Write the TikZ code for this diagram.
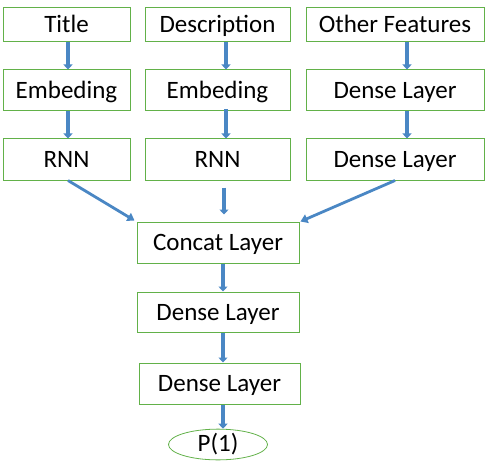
\documentclass[tikz,border=0pt]{standalone}
\usepackage{fontspec}
\setmainfont{Carlito}
\usetikzlibrary{arrows.meta,shapes.geometric}
\definecolor{boxgreen}{RGB}{98,177,73}
\definecolor{arrblue}{RGB}{74,135,196}
\tikzset{
  layerbox/.style={draw=boxgreen, line width=1pt, inner sep=0pt, text height=16pt, text depth=0pt, font=\fontsize{25}{30}\selectfont},
  outell/.style={ellipse, draw=boxgreen, line width=0.8pt, inner sep=0pt, font=\fontsize{25}{30}\selectfont},
  conn/.style={draw=arrblue, line width=3.5pt, -{Triangle[length=5pt,width=9pt]}},
  diag/.style={draw=arrblue, line width=2.8pt, -{Triangle[length=7pt,width=9pt]}}
}
\begin{document}
\begin{tikzpicture}[x=1pt,y=-1pt]
\useasboundingbox (0,0) rectangle (497,473);
% row 1
\node[layerbox, minimum width=127pt, minimum height=34pt] (title) at (66.5,25) {Title};
\node[layerbox, minimum width=145pt, minimum height=34pt] (desc) at (217.5,25) {Description};
\node[layerbox, minimum width=178pt, minimum height=34pt] (other) at (395,25) {Other Features};
% row 2
\node[layerbox, minimum width=127pt, minimum height=41pt] (emb1) at (66.5,90.5) {Embeding};
\node[layerbox, minimum width=145pt, minimum height=41pt] (emb2) at (217.5,90.5) {Embeding};
\node[layerbox, minimum width=178pt, minimum height=41pt] (dense1) at (395,90.5) {Dense Layer};
% row 3
\node[layerbox, minimum width=127pt, minimum height=41pt] (rnn1) at (66.5,159.5) {RNN};
\node[layerbox, minimum width=145pt, minimum height=41pt] (rnn2) at (217.5,159.5) {RNN};
\node[layerbox, minimum width=178pt, minimum height=41pt] (dense2) at (395,159.5) {Dense Layer};
% lower stack
\node[layerbox, minimum width=162pt, minimum height=41pt] (concat) at (218,242.5) {Concat Layer};
\node[layerbox, minimum width=162pt, minimum height=40pt] (dense3) at (218,312) {Dense Layer};
\node[layerbox, minimum width=161pt, minimum height=41pt] (dense4) at (219.5,383.5) {Dense Layer};
\node[outell, minimum width=99pt, minimum height=23pt] (out) at (218,444.5) {P(1)};
% vertical arrows
\draw[conn] ([xshift=1.5pt]title.south) -- ([xshift=1.5pt]emb1.north);
\draw[conn] ([xshift=1.5pt]emb1.south) -- ([xshift=1.5pt]rnn1.north);
\draw[conn] ([xshift=8.5pt]desc.south) -- ([xshift=8.5pt]emb2.north);
\draw[conn] ([xshift=8.5pt,yshift=2pt]emb2.south) -- ([xshift=8.5pt]rnn2.north);
\draw[conn] ([xshift=12pt]other.south) -- ([xshift=12pt]dense1.north);
\draw[conn] ([xshift=12pt]dense1.south) -- ([xshift=12pt]dense2.north);
\draw[conn] ([xshift=6.5pt,yshift=-7pt]rnn2.south) -- ([xshift=6pt,yshift=7pt]concat.north);
% diagonal arrows
\draw[diag] ([xshift=1.5pt]rnn1.south) -- ([xshift=-2pt,yshift=1pt]concat.north west);
\draw[diag] (dense2.south) -- ([xshift=1pt]concat.north east);
% lower arrows
\draw[conn] ([xshift=5pt]concat.south) -- ([xshift=5pt]dense3.north);
\draw[conn] ([xshift=5pt]dense3.south) -- ([xshift=3.5pt]dense4.north);
\draw[conn] ([xshift=3.5pt]dense4.south) -- ([xshift=5pt]out.north);
\end{tikzpicture}
\end{document}
